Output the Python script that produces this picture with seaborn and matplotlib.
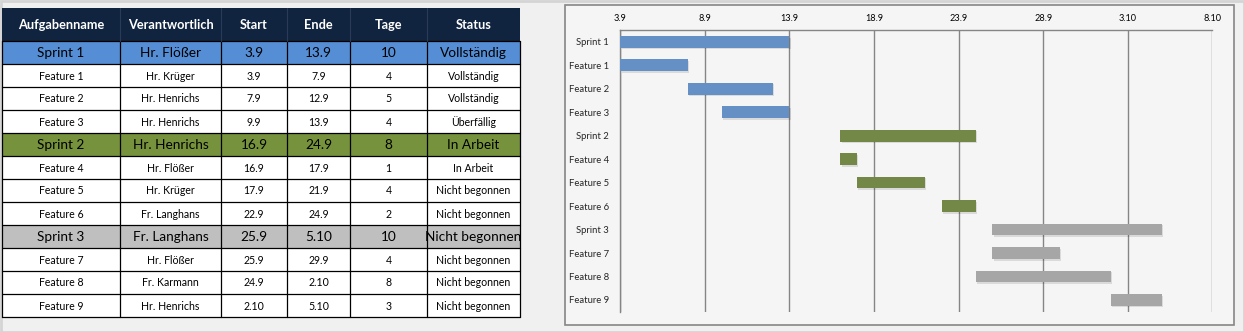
import matplotlib
matplotlib.use("Agg")
import matplotlib.pyplot as plt
import matplotlib.dates as mdates
import matplotlib.patheffects as pe
from matplotlib.patches import Rectangle
from matplotlib.ticker import FuncFormatter, FixedLocator
import numpy as np
import pandas as pd
import seaborn as sns

# ---------------- data ----------------
headers = ["Aufgabenname", "Verantwortlich", "Start", "Ende", "Tage", "Status"]
tasks = ["Sprint 1", "Feature 1", "Feature 2", "Feature 3",
         "Sprint 2", "Feature 4", "Feature 5", "Feature 6",
         "Sprint 3", "Feature 7", "Feature 8", "Feature 9"]
owners = ["Hr. Flößer", "Hr. Krüger", "Hr. Henrichs", "Hr. Henrichs",
          "Hr. Henrichs", "Hr. Flößer", "Hr. Krüger", "Fr. Langhans",
          "Fr. Langhans", "Hr. Flößer", "Fr. Karmann", "Hr. Henrichs"]
starts = ["3.9", "3.9", "7.9", "9.9", "16.9", "16.9", "17.9", "22.9",
          "25.9", "25.9", "24.9", "2.10"]
ends = ["13.9", "7.9", "12.9", "13.9", "24.9", "17.9", "21.9", "24.9",
        "5.10", "29.9", "2.10", "5.10"]
days = [10, 4, 5, 4, 8, 1, 4, 2, 10, 4, 8, 3]
status = ["Vollständig", "Vollständig", "Vollständig", "Überfällig",
          "In Arbeit", "In Arbeit", "Nicht begonnen", "Nicht begonnen",
          "Nicht begonnen", "Nicht begonnen", "Nicht begonnen", "Nicht begonnen"]
groups = ["Sprint 1"] * 4 + ["Sprint 2"] * 4 + ["Sprint 3"] * 4
axis_start, axis_end = "3.9", "8.10"
year = 2015

row_colors = {"Sprint 1": "#558ed5", "Sprint 2": "#76923c", "Sprint 3": "#bfbfbf"}
bar_colors = {"Sprint 1": "#558ed5", "Sprint 2": "#77933c", "Sprint 3": "#a6a6a6"}


def to_date(s):
    d, m = s.split(".")
    return pd.Timestamp(year=year, month=int(m), day=int(d))


df = pd.DataFrame({"Aufgabe": tasks, "Gruppe": groups, "Tage": days,
                   "Start": [to_date(s) for s in starts]})
df["StartNum"] = mdates.date2num(df["Start"])

# ---------------- style ----------------
sns.set_style("white")
plt.rcParams["font.family"] = ["Lato", "DejaVu Sans"]

W, H = 1244, 332
fig = plt.figure(figsize=(W / 100, H / 100), dpi=100, facecolor="#f0f0f0")

# background / table axes in pixel coordinates
bg = fig.add_axes([0, 0, 1, 1])
bg.set_xlim(0, W)
bg.set_ylim(H, 0)
bg.axis("off")
bg.add_patch(Rectangle((0.5, 0.5), W - 1, H - 1, facecolor="none",
                       edgecolor="#d4d4d4", lw=2))
# chart frame
bg.add_patch(Rectangle((565, 5), 669, 320, facecolor="#f5f5f5",
                       edgecolor="#868686", lw=1.2))

# ---------------- table ----------------
col_edges = [2, 120, 221, 287, 350, 427, 520]
head_top, head_bot, row_h = 8, 41, 23
cols = [tasks, owners, starts, ends, [str(d) for d in days], status]

bg.add_patch(Rectangle((col_edges[0], head_top), col_edges[-1] - col_edges[0],
                       head_bot - head_top, facecolor="#10233f", edgecolor="none"))
for j, h in enumerate(headers):
    cx = (col_edges[j] + col_edges[j + 1]) / 2
    bg.text(cx, (head_top + head_bot) / 2 + 0.5, h, color="white", fontsize=9.2,
            fontweight="bold", ha="center", va="center")

for i in range(len(tasks)):
    y0 = head_bot + i * row_h
    is_sprint = tasks[i].startswith("Sprint")
    fc = row_colors[groups[i]] if is_sprint else "white"
    bg.add_patch(Rectangle((col_edges[0], y0), col_edges[-1] - col_edges[0], row_h,
                           facecolor=fc, edgecolor="none"))
    for j in range(len(cols)):
        cx = (col_edges[j] + col_edges[j + 1]) / 2
        bg.text(cx, y0 + row_h / 2 + 0.5, cols[j][i], color="black",
                fontsize=9.8 if is_sprint else 7.6, ha="center", va="center")

table_bot = head_bot + len(tasks) * row_h
for i in range(len(tasks) + 1):
    y = head_bot + i * row_h
    bg.plot([col_edges[0], col_edges[-1]], [y, y], color="black", lw=0.9)
for x in col_edges:
    bg.plot([x, x], [head_bot, table_bot], color="black", lw=0.9)
for x in col_edges[1:-1]:
    bg.plot([x, x], [head_top, head_bot], color="#2a3b57", lw=0.8)

# ---------------- gantt ----------------
left, right, top, bottom = 620.3, 1212.3, 30, 311.7
ax = fig.add_axes([left / W, 1 - bottom / H, (right - left) / W, (bottom - top) / H])
ax.set_facecolor("none")

sns.barplot(data=df, x="Tage", y="Aufgabe", hue="Gruppe", order=tasks,
            palette=bar_colors, dodge=False, orient="h", width=0.5,
            legend=False, ax=ax, zorder=3)

for p in ax.patches:
    w = p.get_width()
    if not np.isfinite(w) or w == 0:
        continue
    row = int(round(p.get_y() + p.get_height() / 2))
    p.set_x(df["StartNum"].iloc[row])
    p.set_linewidth(0)
    p.set_path_effects([pe.SimplePatchShadow(offset=(1.0, -1.2),
                                             shadow_rgbFace="black", alpha=0.11),
                        pe.Normal()])

x0 = mdates.date2num(to_date(axis_start))
x1 = mdates.date2num(to_date(axis_end))
ax.set_xlim(x0, x1)
ax.set_ylim(len(tasks) - 0.5, -0.5)
ticks = mdates.date2num(pd.date_range(to_date(axis_start), to_date(axis_end), freq="5D"))
ax.xaxis.set_major_locator(FixedLocator(ticks))
ax.xaxis.set_major_formatter(FuncFormatter(
    lambda v, _: f"{mdates.num2date(v).day}.{mdates.num2date(v).month}"))
ax.xaxis.tick_top()
ax.tick_params(axis="x", length=0, pad=5, labelsize=6.6, colors="black")
ax.grid(axis="x", color="#858585", lw=1.0, zorder=0)
ax.set_axisbelow(True)

ax.yaxis.set_minor_locator(FixedLocator(np.arange(-0.5, len(tasks), 1)))
ax.tick_params(axis="y", which="major", length=0, pad=8, labelsize=6.8)
ax.tick_params(axis="y", which="minor", length=3, width=0.8, color="#858585")
ax.set_xlabel("")
ax.set_ylabel("")

for s in ["right", "bottom"]:
    ax.spines[s].set_visible(False)
for s in ["top", "left"]:
    ax.spines[s].set_color("#858585")
    ax.spines[s].set_linewidth(1.0)

fig.savefig("out.png", dpi=100, facecolor=fig.get_facecolor())
